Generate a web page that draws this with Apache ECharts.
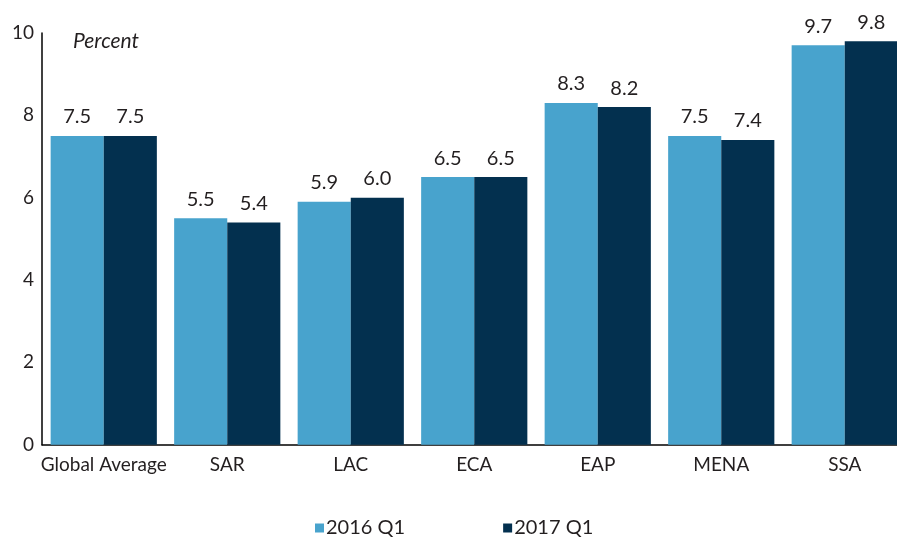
<!DOCTYPE html>
<html>
<head>
<meta charset="utf-8">
<script src="https://cdn.jsdelivr.net/npm/echarts@6/dist/echarts.min.js"></script>
<style>
  html, body { margin: 0; padding: 0; background: #fff; }
  #chart { width: 897px; height: 538px; }
</style>
</head>
<body>
<div id="chart"></div>
<script>
  // regions on the x axis
  var regions = ['Global Average', 'SAR', 'LAC', 'ECA', 'EAP', 'MENA', 'SSA'];
  var q2016 = [7.5, 5.5, 5.9, 6.5, 8.3, 7.5, 9.7];
  var q2017 = [7.5, 5.4, 6.0, 6.5, 8.2, 7.4, 9.8];
  var seriesNames = ['2016 Q1', '2017 Q1'];
  var yTicks = [0, 2, 4, 6, 8, 10];

  var font = 'Lato, "Noto Sans", sans-serif';
  var chart = echarts.init(document.getElementById('chart'));

  var labelStyle = {
    show: true,
    position: 'top',
    distance: 9,
    color: '#231f20',
    fontFamily: font,
    fontSize: 20,
    formatter: function (p) { return p.value.toFixed(1); }
  };

  chart.setOption({
    animation: false,
    textStyle: { fontFamily: font },
    grid: { left: 42, top: 33, width: 864.5, height: 411.7, outerBoundsMode: 'none', containLabel: false },
    graphic: [{
      type: 'text',
      left: 73,
      top: 31,
      style: { text: 'Percent', fontFamily: font, fontStyle: 'italic', fontSize: 21, fill: '#231f20' }
    }],
    legend: {
      top: 513,
      left: 310,
      itemGap: 98,
      itemWidth: 9,
      itemHeight: 9,
      icon: 'rect',
      textStyle: { fontFamily: font, fontSize: 20, color: '#231f20', padding: [0, 0, 0, -3] },
      data: seriesNames
    },
    xAxis: {
      type: 'category',
      data: regions,
      axisLine: { lineStyle: { color: '#000', width: 1.5 } },
      axisTick: { show: false },
      axisLabel: { interval: 0, color: '#231f20', fontSize: 19, margin: 11, fontFamily: font }
    },
    yAxis: {
      type: 'value',
      min: 0,
      max: 10,
      interval: 2,
      splitLine: { show: false },
      axisLine: { show: true, lineStyle: { color: '#000', width: 1.5 } },
      axisTick: { show: false },
      axisLabel: {
        color: '#231f20', fontSize: 19, margin: 8, fontFamily: font,
        formatter: function (v) { return yTicks.indexOf(v) >= 0 ? String(v) : ''; }
      }
    },
    series: [
      {
        name: seriesNames[0],
        type: 'bar',
        data: q2016,
        barGap: '0%',
        barCategoryGap: '14%',
        itemStyle: { color: '#48a3cd' },
        label: labelStyle
      },
      {
        name: seriesNames[1],
        type: 'bar',
        data: q2017,
        itemStyle: { color: '#03304f' },
        label: labelStyle
      }
    ]
  });
</script>
</body>
</html>
